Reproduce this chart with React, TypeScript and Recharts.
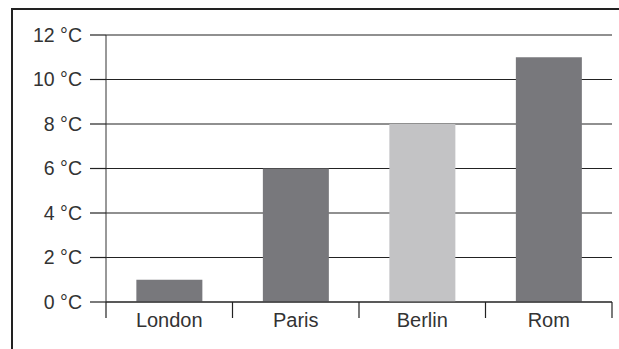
import React from "react";
import { BarChart, Bar, XAxis, YAxis, CartesianGrid, Cell } from "recharts";

const cities = ["London", "Paris", "Berlin", "Rom"];
const temperatures = [1, 6, 8, 11];
const yTicks = [0, 2, 4, 6, 8, 10, 12];
const barColors = ["#78787c", "#78787c", "#c3c3c5", "#78787c"];

const data = cities.map((city, i) => ({ city, temp: temperatures[i] }));

const ink = "#222";
const font = "Liberation Sans, Arial, sans-serif";

// label in the middle of the band, tick lines on the band edges
function CityTick(props: any) {
  const { x, y, payload, index } = props;
  const half = payload.offset || 0;
  const last = index === cities.length - 1;
  return (
    <g>
      <line x1={x - half} y1={y} x2={x - half} y2={y + 16} stroke={ink} strokeWidth={1.2} />
      {last && <line x1={x + half} y1={y} x2={x + half} y2={y + 16} stroke={ink} strokeWidth={1.2} />}
      <text x={x} y={y} dy={25} textAnchor="middle" fill="#333" fontSize={20} fontFamily={font}>
        {payload.value}
      </text>
    </g>
  );
}

export default function App() {
  return (
    <div style={{ position: "absolute", left: 0, top: 0, width: 619, height: 349, overflow: "hidden", background: "#fff" }}>
      <div style={{ position: "absolute", left: 11, top: 8, width: 700, height: 400, border: `2px solid ${ink}` }} />
      <div style={{ position: "absolute", left: 0, top: 0 }}>
        <BarChart width={619} height={349} data={data} margin={{ top: 35, right: 7, bottom: 0, left: 0 }} barCategoryGap="24%">
          <CartesianGrid vertical={false} stroke={ink} strokeWidth={1.2} />
          <XAxis
            dataKey="city"
            height={47}
            interval={0}
            tickSize={0}
            tickMargin={0}
            tickLine={false}
            axisLine={{ stroke: ink, strokeWidth: 1.2 }}
            tick={<CityTick />}
          />
          <YAxis
            domain={[0, 12]}
            ticks={yTicks}
            interval={0}
            width={106}
            tickSize={16}
            tickMargin={8}
            tickFormatter={(v) => `${v} °C`}
            axisLine={{ stroke: "#333", strokeWidth: 1 }}
            tickLine={{ stroke: ink, strokeWidth: 1.2 }}
            tick={{ fill: "#333", fontSize: 19.5, fontFamily: font }}
          />
          <Bar dataKey="temp" isAnimationActive={false}>
            {data.map((d, i) => (
              <Cell key={d.city} fill={barColors[i]} />
            ))}
          </Bar>
        </BarChart>
      </div>
    </div>
  );
}
